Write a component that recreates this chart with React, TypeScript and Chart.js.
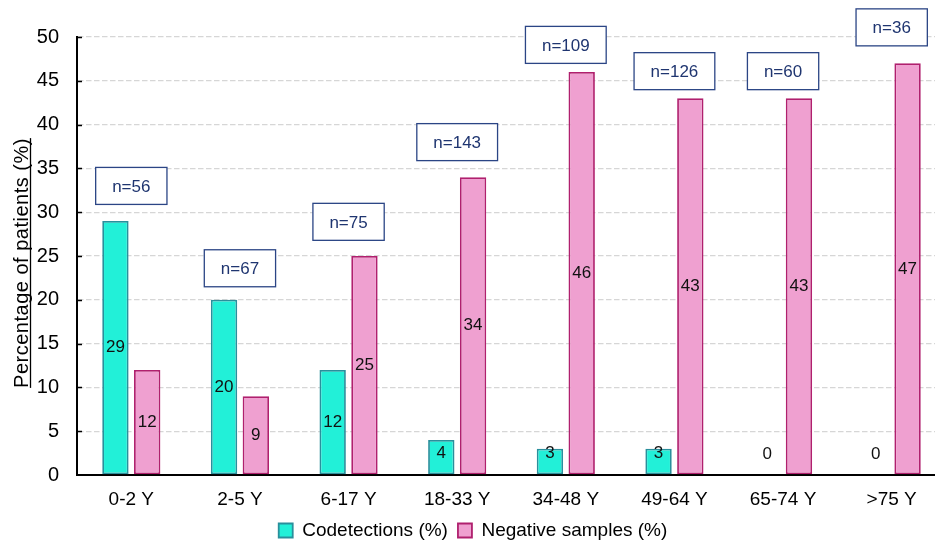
import React, { useEffect, useRef } from "react";
import { Chart, registerables } from "chart.js";

Chart.register(...registerables);

const categories = ["0-2 Y", "2-5 Y", "6-17 Y", "18-33 Y", "34-48 Y", "49-64 Y", "65-74 Y", ">75 Y"];
const codetections = [29, 20, 12, 4, 3, 3, 0, 0];
const negativeSamples = [12, 9, 25, 34, 46, 43, 43, 47];
const nCounts = [56, 67, 75, 143, 109, 126, 60, 36];
const nBoxLevel = [33, 23.6, 28.9, 38, 49.1, 46.1, 46.1, 51.1];
const yTicks = [0, 5, 10, 15, 20, 25, 30, 35, 40, 45, 50];

const FONT = "'Liberation Sans', Arial, sans-serif";

const valueLabels = {
  id: "valueLabels",
  afterDatasetsDraw(chart: any) {
    const ctx = chart.ctx;
    ctx.save();
    ctx.font = `17px ${FONT}`;
    ctx.fillStyle = "#111";
    ctx.textAlign = "center";
    ctx.textBaseline = "middle";
    chart.data.datasets.forEach((ds: any, di: number) => {
      const meta = chart.getDatasetMeta(di);
      meta.data.forEach((el: any, i: number) => {
        const { x, y, base } = el.getProps(["x", "y", "base"], true);
        let cy = (y + base) / 2;
        cy = Math.min(cy, base - 21);
        ctx.fillText(String(ds.data[i]), x, cy);
      });
    });
    ctx.restore();
  },
};

const innerTicks = {
  id: "innerTicks",
  afterDatasetsDraw(chart: any) {
    const ctx = chart.ctx;
    const ys = chart.scales.y;
    const left = chart.chartArea.left;
    ctx.save();
    ctx.strokeStyle = "#000";
    ctx.lineWidth = 1.5;
    yTicks.forEach((v) => {
      if (v === 0) return;
      const py = Math.round(ys.getPixelForValue(v)) + 0.5;
      ctx.beginPath();
      ctx.moveTo(left, py);
      ctx.lineTo(left + 5, py);
      ctx.stroke();
    });
    ctx.restore();
  },
};

const nBoxes = {
  id: "nBoxes",
  afterDatasetsDraw(chart: any) {
    const ctx = chart.ctx;
    const xs = chart.scales.x;
    const ys = chart.scales.y;
    ctx.save();
    ctx.font = `17px ${FONT}`;
    ctx.textAlign = "center";
    ctx.textBaseline = "middle";
    nCounts.forEach((n, i) => {
      const text = "n=" + n;
      const cx = xs.getPixelForValue(i);
      const cy = ys.getPixelForValue(nBoxLevel[i]);
      const w = ctx.measureText(text).width + 33;
      const h = 37;
      ctx.fillStyle = "#ffffff";
      ctx.fillRect(cx - w / 2, cy - h / 2, w, h);
      ctx.strokeStyle = "#2B4585";
      ctx.lineWidth = 1.3;
      ctx.strokeRect(cx - w / 2, cy - h / 2, w, h);
      ctx.fillStyle = "#1F3570";
      ctx.fillText(text, cx, cy + 1);
    });
    ctx.restore();
  },
};

const yTitle = {
  id: "yTitle",
  afterDraw(chart: any) {
    const ctx = chart.ctx;
    const text = "Percentage of patients (%)";
    ctx.save();
    ctx.font = `20px ${FONT}`;
    try {
      (ctx as any).letterSpacing = "0.5px";
    } catch (e) {}
    ctx.fillStyle = "#000";
    ctx.textAlign = "center";
    ctx.textBaseline = "alphabetic";
    ctx.translate(28, 263);
    ctx.rotate(-Math.PI / 2);
    ctx.fillText(text, 0, 0);
    const w = ctx.measureText(text).width;
    ctx.strokeStyle = "#000";
    ctx.lineWidth = 1.3;
    ctx.beginPath();
    ctx.moveTo(-w / 2, 2.5);
    ctx.lineTo(w / 2, 2.5);
    ctx.stroke();
    ctx.restore();
  },
};

export default function App() {
  const ref = useRef<HTMLCanvasElement>(null);

  useEffect(() => {
    if (!ref.current) return;
    const chart = new Chart(ref.current, {
      type: "bar",
      data: {
        labels: categories,
        datasets: [
          {
            label: "Codetections (%)",
            data: codetections,
            backgroundColor: "#22F0D8",
            borderColor: "#2A8F9C",
            borderWidth: 1.8,
            borderSkipped: false,
            categoryPercentage: 0.585,
            barPercentage: 0.83,
          },
          {
            label: "Negative samples (%)",
            data: negativeSamples,
            backgroundColor: "#EFA0D0",
            borderColor: "#B0206E",
            borderWidth: 1.8,
            borderSkipped: false,
            categoryPercentage: 0.585,
            barPercentage: 0.83,
          },
        ],
      },
      options: {
        responsive: false,
        animation: false,
        devicePixelRatio: 1,
        layout: { padding: { left: 0, right: 14, top: 37, bottom: 0 } },
        plugins: {
          legend: {
            display: true,
            position: "bottom",
            labels: {
              boxWidth: 14,
              boxHeight: 14,
              color: "#000",
              padding: 10,
              font: { size: 19, family: FONT },
            },
          },
          tooltip: { enabled: false },
        },
        scales: {
          x: {
            grid: { display: false, drawTicks: false },
            border: { color: "#000", width: 2 },
            ticks: { color: "#000", padding: 13, font: { size: 19, family: FONT }, maxRotation: 0 },
            afterFit(scale: any) {
              const lh = scale.chart.legend ? scale.chart.legend.height : 37;
              scale.height = 550 - 475 - lh;
            },
          },
          y: {
            min: 0,
            max: 50,
            afterBuildTicks(scale: any) {
              scale.ticks = yTicks.map((v) => ({ value: v }));
            },
            grid: {
              color: "#D6D6D6",
              lineWidth: 1.3,
              drawTicks: false,
            },
            border: { color: "#000", width: 2, dash: [5.5, 2.5] },
            ticks: { color: "#000", padding: 18, font: { size: 20, family: FONT } },
            afterFit(scale: any) {
              scale.width = 77;
            },
          },
        },
      },
      plugins: [innerTicks, valueLabels, nBoxes, yTitle],
    });
    return () => chart.destroy();
  }, []);

  return (
    <div
      style={{
        position: "fixed",
        left: 0,
        top: 0,
        width: 935,
        height: 550,
        overflow: "hidden",
        background: "#fff",
      }}
    >
      <canvas ref={ref} width={960} height={550} style={{ width: 960, height: 550, display: "block" }} />
    </div>
  );
}
